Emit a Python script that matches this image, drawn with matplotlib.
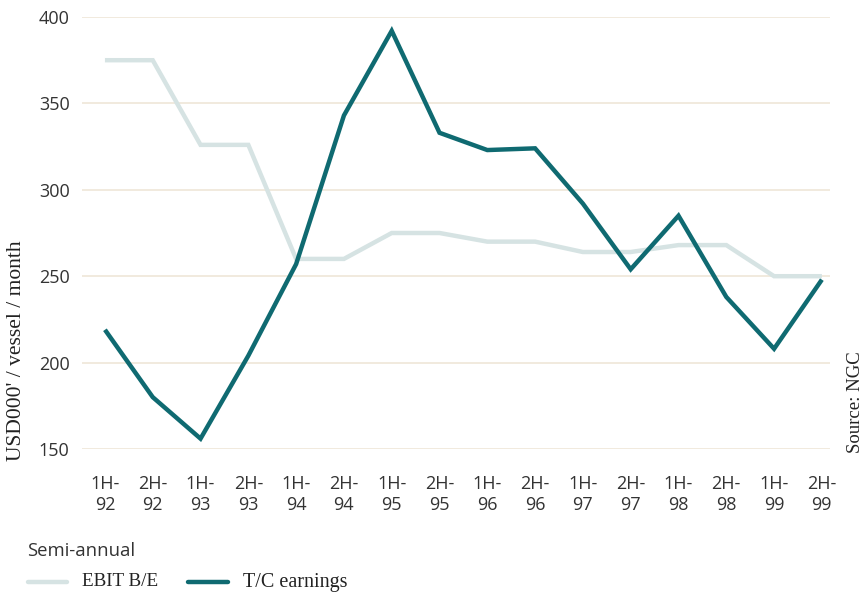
import matplotlib
matplotlib.use("Agg")
import matplotlib.pyplot as plt
from matplotlib.transforms import ScaledTranslation
from matplotlib.lines import Line2D

periods = ["1H-\n92", "2H-\n92", "1H-\n93", "2H-\n93", "1H-\n94", "2H-\n94",
           "1H-\n95", "2H-\n95", "1H-\n96", "2H-\n96", "1H-\n97", "2H-\n97",
           "1H-\n98", "2H-\n98", "1H-\n99", "2H-\n99"]
ebit_be = [375, 375, 326, 326, 260, 260, 275, 275, 270, 270, 264, 264,
           268, 268, 250, 250]
tc_earnings = [219, 180, 156, 204, 257, 343, 392, 333, 323, 324, 292, 254,
               285, 238, 208, 248]
y_ticks = [150, 200, 250, 300, 350, 400]

EBIT_COLOR = "#d6e3e3"
TC_COLOR = "#0f6a71"
GRID_COLOR = "#efe6d8"
TEXT_COLOR = "#333333"

fig = plt.figure(figsize=(8.65, 5.94), dpi=100)
ax = fig.add_axes([82 / 865, 1 - 449 / 594, (830 - 82) / 865, (449 - 17) / 594])

x = list(range(len(periods)))
ax.plot(x, ebit_be, color=EBIT_COLOR, lw=3.2, solid_joinstyle="miter",
        solid_capstyle="butt", zorder=2)
ax.plot(x, tc_earnings, color=TC_COLOR, lw=3.2, solid_joinstyle="miter",
        solid_capstyle="butt", zorder=3)

ax.set_ylim(150, 400)
ax.set_xlim(-0.48, 15.17)
ax.set_yticks(y_ticks)
ax.set_xticks(x)
ax.set_xticklabels(periods, fontsize=13, color=TEXT_COLOR, family="Open Sans",
                   linespacing=1.2)
for lbl in ax.get_xticklabels():
    lbl.set_transform(lbl.get_transform() + ScaledTranslation(-9 / 100, 0, fig.dpi_scale_trans))
ax.tick_params(axis="y", labelsize=13, labelcolor=TEXT_COLOR, length=0, pad=9)
ax.tick_params(axis="x", length=0, pad=19)
for lbl in ax.get_yticklabels():
    lbl.set_family("Open Sans")
ax.yaxis.grid(True, color=GRID_COLOR, lw=1.2)
ax.set_axisbelow(True)
for s in ax.spines.values():
    s.set_visible(False)

fig.text(17 / 865, 1 - 461 / 594, "USD000' / vessel / month", rotation=90,
         family="Liberation Serif", fontsize=15.5, color="#222222",
         ha="center", va="bottom")
fig.text(855 / 865, 1 - 453 / 594, "Source: NGC", rotation=90,
         family="Liberation Serif", fontsize=13.5, color="#222222",
         ha="center", va="bottom")

fig.text(27 / 865, 1 - 551 / 594, "Semi-annual", family="Open Sans",
         fontsize=13.3, color=TEXT_COLOR, va="center", ha="left")
ly = 1 - 582 / 594
fig.add_artist(Line2D([28 / 865, 67 / 865], [ly, ly], color=EBIT_COLOR, lw=3.2,
                      solid_capstyle="round"))
fig.text(82 / 865, ly, "EBIT B/E", family="Liberation Serif", fontsize=13.8,
         color="#222222", va="center", ha="left")
fig.add_artist(Line2D([188 / 865, 228 / 865], [ly, ly], color=TC_COLOR, lw=3.2,
                      solid_capstyle="round"))
fig.text(243 / 865, ly, "T/C earnings", family="Liberation Serif", fontsize=14.5,
         color="#222222", va="center", ha="left")

fig.savefig("out.png", dpi=100, facecolor="white")
